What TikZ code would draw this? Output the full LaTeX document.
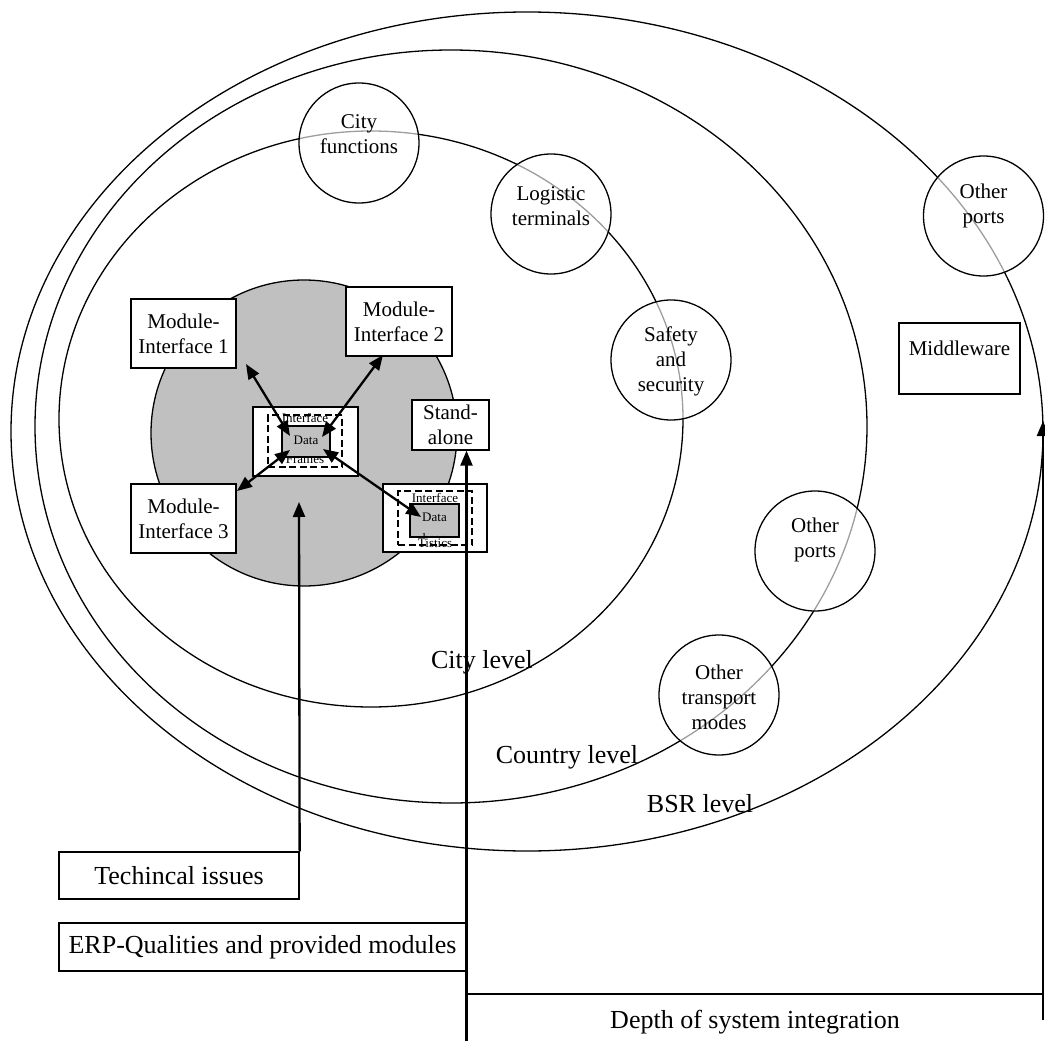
\documentclass[tikz,border=0pt]{standalone}
\usepackage{fontspec}
\setmainfont{Liberation Serif}
\usetikzlibrary{arrows.meta}
\begin{document}
\begin{tikzpicture}[x=1pt,y=-1pt,
  ell/.style={draw, line width=1.3pt},
  bub/.style={circle, draw, line width=1.3pt, fill=white, fill opacity=0.62, text opacity=1, minimum size=120pt, inner sep=0pt},
  btxt/.style={align=center, font=\fontsize{21}{25}\selectfont, inner sep=0pt},
  box/.style={draw, line width=1.3pt, fill=white, inner sep=0pt, align=center, font=\fontsize{21}{25}\selectfont},
  lvl/.style={font=\fontsize{26}{30}\selectfont, inner sep=0pt},
  tiny/.style={font=\fontsize{13}{15}\selectfont, inner sep=0pt, align=center},
  tinydata/.style={font=\fontsize{13}{21}\selectfont, inner sep=0pt, align=center},
  dashbox/.style={draw, line width=1.5pt, fill=white, dash pattern=on 7pt off 3.5pt, inner sep=0pt},
  databox/.style={draw, line width=1.3pt, fill=diskgray, inner sep=0pt},
  uparrow/.style={line width=2.3pt, -{Triangle[length=15pt,width=12pt]}},
  twoarrow/.style={line width=2.3pt, {Triangle[length=15pt,width=12pt]}-{Triangle[length=15pt,width=12pt]}},
  plainline/.style={line width=1.5pt}
]
\definecolor{diskgray}{HTML}{C0C0C0}
\useasboundingbox (0,0) rectangle (1045,1041);

% level ellipses
\draw[ell] (527,431.5) ellipse [x radius=516pt, y radius=419.5pt];
\draw[ell] (451,426.5) ellipse [x radius=416pt, y radius=376.5pt];
\draw[ell] (371,419) ellipse [x radius=312pt, y radius=288pt];

% gray disk
\node[circle, draw, line width=1.3pt, fill=diskgray, minimum size=306pt, inner sep=0pt] (disk) at (304,433) {};

% level labels
\node[lvl] (citylvl) at (482,662) {City level};
\node[lvl] (countrylvl) at (567,757) {Country level};
\node[lvl] (bsrlvl) at (700,804) {BSR level};

% module boxes
\node[box, minimum width=105pt, minimum height=69pt] (mi1) at (183.5,333.5) {Module-\\Interface 1};
\node[box, minimum width=106pt, minimum height=69pt] (mi2) at (399,321.5) {Module-\\Interface 2};
\node[box, minimum width=105pt, minimum height=69pt] (mi3) at (183.5,518.5) {Module-\\Interface 3};
\node[box, minimum width=77pt, minimum height=50pt] (sa) at (450.5,425) {Stand-\\alone};
\node[box, minimum width=121pt, minimum height=71pt] (mw) at (959.5,358.5) {};
\node[btxt] (mwt) at (959.5,348) {Middleware};

% central interface box
\node[box, minimum width=105pt, minimum height=69pt] (ifc) at (305.5,441.5) {};
\node[dashbox, minimum width=74pt, minimum height=52pt] (ifcd) at (305,441) {};
\node[tiny] (ifct) at (305,418) {Interface};
\node[tiny] (ifcb) at (305,459) {Frames};
\node[databox, minimum width=48pt, minimum height=31pt] (db1) at (306,441.5) {};
\begin{scope}
  \clip (282,426) rectangle (330,457);
  \node[tinydata] (db1t) at (306,450.5) {Data\\base};
\end{scope}

% lower right interface box
\node[box, minimum width=104pt, minimum height=68pt] (ifr) at (435,518) {};
\node[dashbox, minimum width=74pt, minimum height=54pt] (ifrd) at (435,518) {};
\node[tiny] (ifrt) at (435,498) {Interface};
\node[tiny] (ifrb) at (435,543) {Tistics};
\node[databox, minimum width=49pt, minimum height=33pt] (db2) at (434.5,520.5) {};
\begin{scope}
  \clip (410,504) rectangle (459,537);
  \node[tinydata] (db2t) at (434.5,527.5) {Data\\base};
\end{scope}

% bubbles
\node[bub] (cf) at (359,143) {};
\node[btxt] (cft) at (359,134) {City\\functions};
\node[bub] (lt) at (551,214) {};
\node[btxt] (ltt) at (551,206) {Logistic\\terminals};
\node[bub] (ss) at (671,360) {};
\node[btxt] (sst) at (671,361) {Safety\\and\\security};
\node[bub] (op1) at (815,551) {};
\node[btxt] (op1t) at (815,540) {Other\\ports};
\node[bub] (otm) at (719,695) {};
\node[btxt] (otmt) at (719,697) {Other\\transport\\modes};
\node[bub] (op2) at (983.5,216) {};
\node[btxt] (op2t) at (983.5,206) {Other\\ports};

% bottom boxes
\node[box, font=\fontsize{26}{30}\selectfont, minimum width=240pt, minimum height=47pt] (tech) at (179,875.5) {Techincal issues};
\node[box, font=\fontsize{26}{30}\selectfont, minimum width=407pt, minimum height=48pt] (erp) at (262.5,947) {ERP-Qualities and provided modules};
\node[lvl] (depth) at (755,1022) {Depth of system integration};

% arrow end coordinates
\coordinate (a1s) at (246,364);
\coordinate (a1e) at (290,436);
\coordinate (a2s) at (383,355);
\coordinate (a2e) at (322,437);
\coordinate (a3s) at (237,491);
\coordinate (a3e) at (290,450);
\coordinate (a4s) at (323,449);
\coordinate (a4e) at (421,517);
\coordinate (tipT) at (299,502);
\coordinate (erpbot) at (466.5,1041);
\coordinate (rbot) at (1043,1020);
\coordinate (rtip) at (1043,421);
\coordinate (dl) at (466.5,994);
\coordinate (dr) at (1043,994);

% connectors
\draw[twoarrow] (a1s) -- (a1e);
\draw[twoarrow] (a2s) -- (a2e);
\draw[twoarrow] (a3s) -- (a3e);
\draw[twoarrow] (a4s) -- (a4e);
\draw[uparrow] (tech.north east) -- (tipT);
\draw[uparrow] (erpbot) -- (erpbot |- sa.south);
\draw[uparrow] (rbot) -- (rtip);
\draw[plainline] (dl) -- (dr);
\end{tikzpicture}
\end{document}
